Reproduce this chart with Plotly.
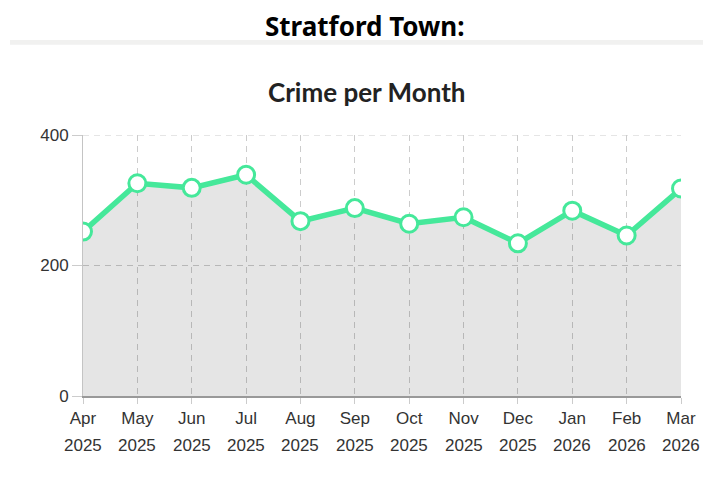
import plotly.graph_objects as go

# Monthly crime counts, Stratford Town
months = ["Apr", "May", "Jun", "Jul", "Aug", "Sep", "Oct", "Nov", "Dec", "Jan", "Feb", "Mar"]
years = ["2025", "2025", "2025", "2025", "2025", "2025", "2025", "2025", "2025", "2026", "2026", "2026"]
crimes = [252, 326, 319, 339, 268, 288, 264, 274, 234, 284, 246, 318]
y_ticks = [0, 200, 400]

x_idx = list(range(len(months)))

GREEN = "#45e89a"
GRID = "#cccccc"
TEXT = "#333333"

fig = go.Figure()
# translucent fill so the dashed grid still shows through, like the original
fig.add_trace(go.Scatter(
    x=x_idx, y=crimes, mode="lines+markers",
    fill="tozeroy", fillcolor="rgba(0,0,0,0.1)",
    line=dict(color=GREEN, width=5.5),
    marker=dict(size=17, color="white", line=dict(color=GREEN, width=3)),
    hoverinfo="x+y", showlegend=False,
))

# year row under the month tick labels
year_notes = [
    dict(text=y, xref="x", yref="paper", x=i, y=-0.188,
         xanchor="center", yanchor="middle", showarrow=False,
         font=dict(size=17, color=TEXT))
    for i, y in zip(x_idx, years)
]

# plotly skips the gridline on the top edge, so add it back
top_grid = dict(type="line", xref="paper", yref="y",
                x0=0, x1=1, y0=y_ticks[-1], y1=y_ticks[-1],
                line=dict(color=GRID, width=1, dash="6px,5px"), layer="below")

# page body adds an 8px margin, so the figure is 8px smaller than the window
fig.update_layout(
    width=703, height=469,
    margin=dict(l=75, r=30, t=127, b=81),
    paper_bgcolor="white", plot_bgcolor="white",
    font=dict(family="Liberation Sans, Arial, sans-serif", size=17, color=TEXT),
    xaxis=dict(
        range=[0, len(months) - 1], tickvals=x_idx, ticktext=months,
        showgrid=True, gridcolor=GRID, griddash="6px,5px", gridwidth=1,
        showline=True, linecolor="#999999", linewidth=1.5,
        ticks="outside", ticklen=6, tickcolor="#cccccc",
        zeroline=False, tickfont=dict(size=17, color=TEXT),
    ),
    yaxis=dict(
        range=[0, 400], tickvals=y_ticks,
        showgrid=True, gridcolor=GRID, griddash="6px,5px", gridwidth=1,
        showline=True, linecolor="#c4c4c4", linewidth=1,
        ticks="outside", ticklen=10, tickcolor="#cccccc",
        zeroline=False, tickfont=dict(size=17, color=TEXT),
    ),
    shapes=[
        # light grey rule under the header
        dict(type="rect", xref="paper", yref="paper",
             x0=-0.1221, x1=1.06, y0=1.346, y1=1.364,
             fillcolor="#f1f1f0", line=dict(width=0), layer="below"),
        top_grid,
    ],
    annotations=[
        dict(text="<b>Stratford Town:</b>", xref="paper", yref="paper",
             x=0.4724, y=1.417, xanchor="center", yanchor="middle",
             showarrow=False,
             font=dict(family="Noto Sans, sans-serif", size=26, color="black")),
        dict(text="<b>Crime per Month</b>", xref="paper", yref="paper",
             x=0.4744, y=1.163, xanchor="center", yanchor="middle",
             showarrow=False,
             font=dict(family="Lato, sans-serif", size=26, color="#222222")),
    ] + year_notes,
)

fig.write_html("out.html")
